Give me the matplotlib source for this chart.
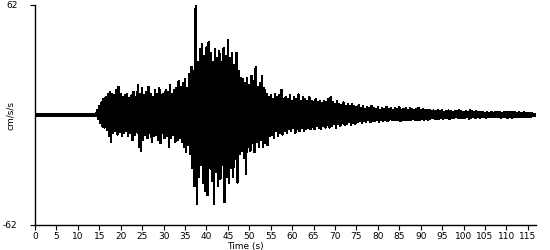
import matplotlib
matplotlib.use("Agg")
import matplotlib.pyplot as plt
import numpy as np

plt.rcParams['font.family'] = ['Liberation Sans Narrow', 'DejaVu Sans']

# quiet part before the first arrival
pre_t = [0.0, 14.0]
pre_v = [0.0, 0.0]

# peak readings of the trace, every 0.5 s from t0
t0 = 14.0
dt = 0.5
upper = [
    0.5, 2.5, 5, 7, 9, 10, 11.5, 13, 12, 11,
    14, 16, 12, 10, 11, 12, 9.5, 11, 13, 10,
    17, 12, 15, 11, 13, 16, 12, 10, 14, 12,
    15, 11, 12, 14, 13, 17, 12, 14, 15, 19,
    16, 18, 20, 15, 23, 27, 25, 62, 30, 37,
    40, 33, 38, 41, 35, 30, 37, 32, 36, 30,
    37.6, 33, 42, 32, 35, 28, 35, 25, 21, 20,
    18, 21, 17, 22, 19, 27, 16, 18, 22, 15,
    12, 10, 11, 9, 12, 10, 11, 14, 9, 10,
    9, 11, 8, 10, 9, 11.5, 8, 10, 9, 8,
    10, 8, 7, 9, 7, 8, 6.5, 8, 7, 9,
    10, 7, 6, 8, 6, 5.5, 7, 5, 6, 5,
    6, 5, 4.5, 5.5, 4, 5, 3.5, 4.5, 4, 5,
    4, 3.5, 4.5, 3, 4, 3.5, 4.5, 3.5, 4, 3,
    4, 3.5, 4.5, 3, 3.5, 4, 3, 4, 3.5, 3,
    3.5, 4, 3, 3.5, 3, 2.5, 3, 2, 2.5, 2,
    2.5, 2, 2.5, 1.8, 2.2, 2.5, 2, 1.8, 2.4, 2,
    2.5, 2, 1.6, 2.2, 1.8, 2.5, 2.2, 1.5, 2, 1.6,
    1.4, 1.8, 1.2, 1.5, 1.3, 1.6, 1.2, 1.8, 1.4, 1.5,
    1.2, 1.6, 1.8, 1.5, 1.9, 1.4, 1.6, 1.3, 1.7, 1.2,
    1.5, 1.2, 1.3, 1.0, 0.8, 0.6,
]
lower = [
    -0.5, -2, -4.5, -6.5, -7, -8.5, -12, -15, -10, -9,
    -11, -9.5, -12, -10, -9, -12, -10, -14, -11, -9.5,
    -18, -20, -14, -11, -13, -10, -15, -12, -11, -14,
    -16, -10, -13, -12, -18, -13, -11, -15, -14, -13,
    -15, -18, -21, -17, -22, -30, -40, -50, -35, -28,
    -38, -43, -45, -30, -37, -50, -32, -40, -36, -28,
    -49, -35, -38, -30, -35, -25, -38, -22, -20, -24,
    -33, -18, -20, -16, -21, -15, -18, -14, -18, -16,
    -17, -12, -11, -13, -9, -12, -10, -11, -9, -10,
    -8, -9, -7, -10, -8, -9, -7, -9, -8, -7,
    -8, -6.5, -8, -6, -7, -8, -6, -7, -5.5, -7,
    -6, -5, -7, -5, -6, -4.5, -5.5, -5, -4, -5.5,
    -4.5, -5, -4, -3.5, -4.5, -3.5, -4, -3, -4, -3.5,
    -3.5, -3, -4, -2.5, -3.5, -3, -3.5, -2.5, -3, -3,
    -3, -2.5, -3.5, -2.5, -3, -2.5, -3, -2.5, -2, -3,
    -2.5, -3, -2, -3, -2, -2.5, -2, -1.5, -2, -2,
    -2, -1.5, -2, -1.8, -1.5, -2.2, -1.5, -1.8, -1.3, -1.6,
    -1.8, -1.4, -1.6, -1.2, -2, -1.5, -1.3, -1.6, -1.2, -1.4,
    -1.2, -1, -1.4, -1.1, -0.9, -1.2, -1, -1.3, -1.1, -1.4,
    -1.0, -1.2, -1.5, -1.3, -1.4, -1.1, -1.3, -1.0, -1.2, -0.9,
    -1.1, -0.9, -1.0, -0.8, -0.6, -0.5,
]

x_ticks = list(range(0, 120, 5))
y_max = 62

# interleave upper and lower peaks into one trace
n = len(upper)
tt = t0 + dt * np.arange(n)
trace_t = np.column_stack([tt, tt + dt / 2]).ravel()
trace_v = np.column_stack([upper, lower]).ravel()

fig = plt.figure(figsize=(5.5, 2.5), dpi=100)
ax = fig.add_axes([35 / 550, 25 / 250, 501 / 550, 220 / 250])

ax.plot(pre_t, pre_v, color='black', lw=1.5, antialiased=False)
ax.plot(trace_t, trace_v, color='black', lw=1.0, antialiased=False)

ax.set_xlim(0, 116.9)
ax.set_ylim(-y_max, y_max)
ax.set_xticks(x_ticks)
ax.set_yticks([-y_max, y_max])
ax.set_yticklabels([str(-y_max), str(y_max)])

for s in ['top', 'right']:
    ax.spines[s].set_visible(False)
for s in ['left', 'bottom']:
    ax.spines[s].set_linewidth(1)

ax.tick_params(axis='x', direction='out', length=3.6, width=0.8, pad=1.2, labelsize=6.5)
ax.tick_params(axis='y', direction='out', length=3.6, width=0.8, pad=9, labelsize=6.5)

ax.set_xlabel('Time (s)', fontsize=6.5)
ax.xaxis.set_label_coords(0.419, -0.078)
ax.set_ylabel('cm/s/s', fontsize=6.5)
ax.yaxis.set_label_coords(-0.04, 0.5)

fig.savefig('out.png', dpi=100)
